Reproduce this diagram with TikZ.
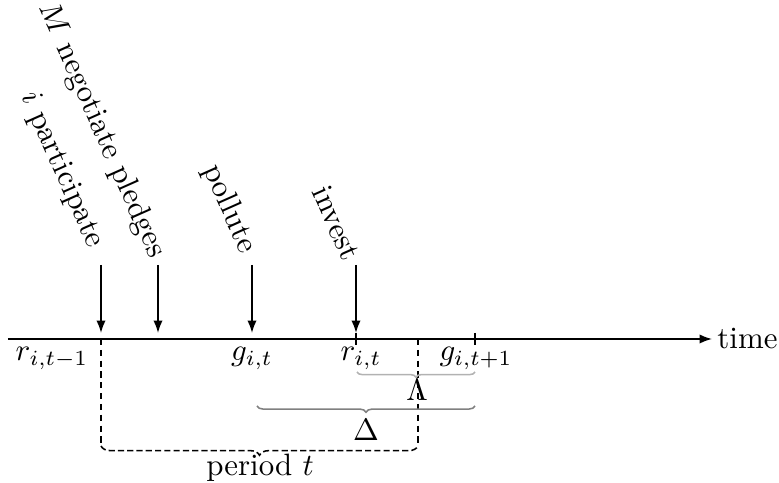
\documentclass[tikz,border=0pt]{standalone}
\usetikzlibrary{decorations.pathreplacing,arrows.meta}
\begin{document}
\begin{tikzpicture}[x=0.3236pt,y=-0.3236pt,
  evarrow/.style={-{Latex[length=4pt,width=3pt]},line width=0.5pt},
  evlabel/.style={rotate=-66,anchor=east,inner sep=1pt},
  axlabel/.style={below,inner sep=2.5pt},
  vdash/.style={dashed,line width=0.5pt,dash pattern=on 2pt off 1.5pt},
  brc/.style={decorate,decoration={brace,mirror},line width=0.5pt}]
\useasboundingbox (0,0) rectangle (779,483);
% axis
\coordinate (a0) at (8,339);
\coordinate (a1) at (712,339);
\draw[-{Latex[length=4pt,width=3pt]},line width=0.5pt] (a0) -- (a1) node[right,inner sep=1.5pt] (time) {time};
% event arrows
\foreach \n/\x in {p/101,m/158,q/252,v/356}{
  \coordinate (s\n) at (\x,265);
  \coordinate (e\n) at (\x,333);
  \draw[evarrow] (s\n) -- (e\n);
}
\node[evlabel] (lp) at (97,250) {$i$ participate};
\node[evlabel] (lm) at (159,260) {$M$ negotiate pledges};
\node[evlabel] (lq) at (250,255) {pollute};
\node[evlabel] (lv) at (354,262) {invest};
% ticks
\coordinate (t1a) at (356,333); \coordinate (t1b) at (356,345);
\coordinate (t2a) at (475,333); \coordinate (t2b) at (475,345);
\draw[line width=0.5pt] (t1a) -- (t1b);
\draw[line width=0.5pt] (t2a) -- (t2b);
% axis labels
\node[axlabel] (r0) at (52,339) {$r_{i,t-1}$};
\node[axlabel] (g0) at (252,339) {$g_{i,t}$};
\node[axlabel] (r1) at (361,339) {$r_{i,t}$};
\node[axlabel] (g1) at (476,339) {$g_{i,t+1}$};
% dashed verticals
\coordinate (d1a) at (101,339); \coordinate (d1b) at (101,446);
\coordinate (d2a) at (418,339); \coordinate (d2b) at (418,446);
\draw[vdash] (d1a) -- (d1b);
\draw[vdash] (d2a) -- (d2b);
% braces
\coordinate (la) at (357,372); \coordinate (lb) at (475,372);
\draw[brc,decoration={amplitude=1.7pt},gray!60] (la) -- (lb);
\node (lam) at (417,390) {$\Lambda$};
\coordinate (da) at (257,406); \coordinate (db) at (475,406);
\draw[brc,decoration={amplitude=2pt},gray] (da) -- (db);
\node (del) at (366,430) {$\Delta$};
\coordinate (pa) at (101,446); \coordinate (pb) at (418,446);
\draw[brc,decoration={amplitude=3pt},dashed,dash pattern=on 2pt off 1pt] (pa) -- (pb);
\node (per) at (260,468) {period $t$};
\end{tikzpicture}
\end{document}
